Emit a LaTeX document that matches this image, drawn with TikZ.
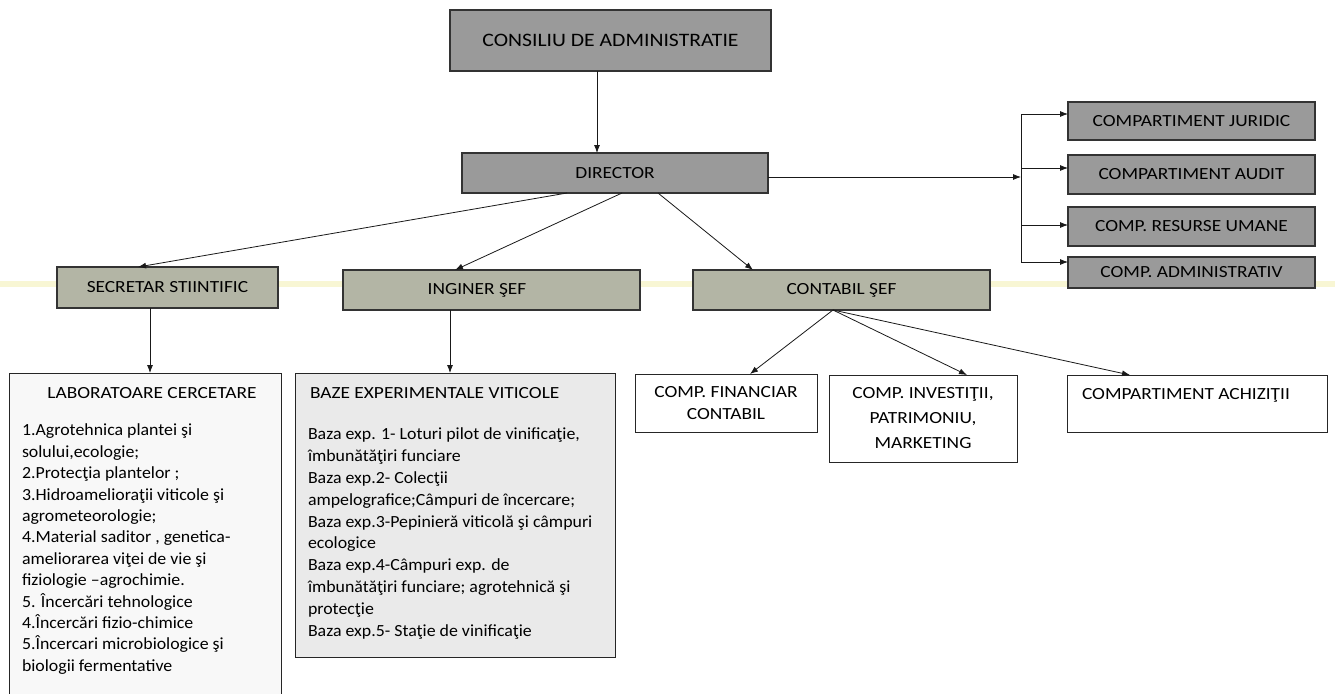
\documentclass[tikz,border=0pt]{standalone}
\usepackage{fontspec}
\setmainfont[FakeStretch=1.14]{Carlito}
\newfontfamily\bodyfont[FakeStretch=1.05]{Carlito}
\usetikzlibrary{arrows.meta,calc}
\definecolor{boxgray}{HTML}{9A9A9A}
\definecolor{boxgreen}{HTML}{B3B5A5}
\definecolor{bazefill}{HTML}{EAEAEA}
\definecolor{labfill}{HTML}{F8F8F8}
\definecolor{scanband}{HTML}{F4F0B8}
\tikzset{
  base/.style={anchor=north west, inner sep=0pt, outer sep=0pt, align=center,
    font=\fontsize{17}{21.5}\selectfont},
  graybox/.style={base, draw=black!80, line width=1.1pt, fill=boxgray},
  greenbox/.style={base, draw=black!80, line width=1.1pt, fill=boxgreen},
  whitebox/.style={base, draw=black!85, line width=0.9pt, fill=white},
  plain/.style={inner sep=0pt, outer sep=0pt, font=\fontsize{17}{21.5}\selectfont},
  listtext/.style={plain, anchor=north west, align=left, font=\bodyfont\fontsize{17}{21.4}\selectfont},
  arr/.style={-{Latex[length=8pt,width=6pt]}, line width=0.8pt, draw=black!90},
  ln/.style={line width=0.8pt, draw=black!90}
}
\begin{document}
\begin{tikzpicture}[x=1pt,y=-1pt]
\useasboundingbox (0,0) rectangle (1335,693);
\clip (0,0) rectangle (1335,693);
\fill[white] (0,0) rectangle (1335,693);
% faint scan band
\fill[scanband, opacity=0.6] (0,281) rectangle (1335,287);

% top boxes
\node[graybox, minimum width=321pt, minimum height=61pt,
      font=\fontsize{19}{22}\selectfont] (cons) at (450,10) {CONSILIU DE ADMINISTRATIE};
\node[graybox, minimum width=306pt, minimum height=40pt] (dir) at (462,153) {DIRECTOR};

% right column
\node[graybox, minimum width=247pt, minimum height=38pt] (jur) at (1068,102) {COMPARTIMENT JURIDIC};
\node[graybox, minimum width=247pt, minimum height=39pt] (aud) at (1068,155) {COMPARTIMENT AUDIT};
\node[graybox, minimum width=247pt, minimum height=39pt] (res) at (1068,207) {COMP. RESURSE UMANE};
\node[graybox, minimum width=247pt, minimum height=31pt] (adm) at (1068,257) {COMP. ADMINISTRATIV};

% second level
\node[greenbox, minimum width=221pt, minimum height=41pt] (sec) at (57,267) {SECRETAR STIINTIFIC};
\node[greenbox, minimum width=297pt, minimum height=40pt] (ing) at (343,270) {};
\node[plain] (ingt) at (477,290) {INGINER ŞEF};
\node[greenbox, minimum width=297pt, minimum height=40pt] (con) at (693,270) {CONTABIL ŞEF};

% third level
\node[base, draw=black!85, line width=0.9pt, fill=labfill, minimum width=272pt, minimum height=340pt] (lab) at (9,373) {};
\node[plain] (labh) at (152,393) {LABORATOARE CERCETARE};
\node[listtext] (labt) at (22,424) {1.Agrotehnica plantei şi\\
solului,ecologie;\\
2.Protecţia plantelor ;\\
3.Hidroamelioraţii  viticole  şi\\
agrometeorologie;\\
4.Material saditor , genetica-\\
ameliorarea viţei de vie şi\\
fiziologie –agrochimie.\\
5. Încercări tehnologice\\
4.Încercări fizio-chimice\\
5.Încercari microbiologice şi\\
biologii fermentative};

\node[base, draw=black!85, line width=0.9pt, fill=bazefill, minimum width=320pt, minimum height=284pt] (baze) at (295,373) {};
\node[plain, anchor=west] (bazeh) at (310,393) {BAZE EXPERIMENTALE VITICOLE};
\node[listtext, font=\bodyfont\fontsize{17}{21.8}\selectfont] (bazet) at (308,428) {Baza exp. 1- Loturi pilot de vinificaţie,\\
îmbunătăţiri funciare\\
Baza exp.2- Colecţii\\
ampelografice;Câmpuri de încercare;\\
Baza exp.3-Pepinieră viticolă şi câmpuri\\
ecologice\\
Baza exp.4-Câmpuri exp. de\\
îmbunătăţiri funciare; agrotehnică  şi\\
protecţie\\
Baza exp.5- Staţie de vinificaţie};

\node[whitebox, minimum width=182pt, minimum height=58pt, font=\fontsize{17}{22}\selectfont] (fin) at (635,374) {COMP. FINANCIAR\\CONTABIL};
\node[whitebox, minimum width=188pt, minimum height=87pt, font=\fontsize{17}{25}\selectfont] (inv) at (829,375) {COMP. INVESTIŢII,\\PATRIMONIU,\\MARKETING};
\node[whitebox, minimum width=260pt, minimum height=57pt] (ach) at (1067,375) {};
\node[plain, anchor=west] (acht) at (1082,395) {COMPARTIMENT ACHIZIŢII};

% connectors
\draw[arr] (cons.south -| 597,0) -- (dir.north -| 597,0);

\coordinate (bus) at (1021,177);
\coordinate (bj) at (1021,114);
\coordinate (ba) at (1021,168);
\coordinate (br) at (1021,225);
\coordinate (bd) at (1021,262);
\draw[arr] (dir.east |- bus) -- (bus);
\draw[ln] (bj) -- (bd);
\draw[arr] (bj) -- (jur.west |- bj);
\draw[arr] (ba) -- (aud.west |- ba);
\draw[arr] (br) -- (res.west |- br);
\draw[arr] (bd) -- (adm.west |- bd);

\coordinate (d1) at (567,193);
\coordinate (d2) at (622,193);
\coordinate (d3) at (658,193);
\draw[arr] (d1) -- (sec.north -| 138,0);
\draw[arr] (d2) -- (ing.north -| 455,0);
\draw[arr] (d3) -- (con.north -| 753,0);

\draw[arr] (sec.south -| 150,0) -- (lab.north -| 150,0);
\draw[arr] (ing.south -| 450,0) -- (baze.north -| 450,0);

\coordinate (c0) at (833,310);
\draw[arr] (c0) -- (fin.north -| 750,0);
\draw[arr] (c0) -- (inv.north -| 967,0);
\draw[arr] (c0) -- (ach.north -| 1130,0);
\end{tikzpicture}
\end{document}
